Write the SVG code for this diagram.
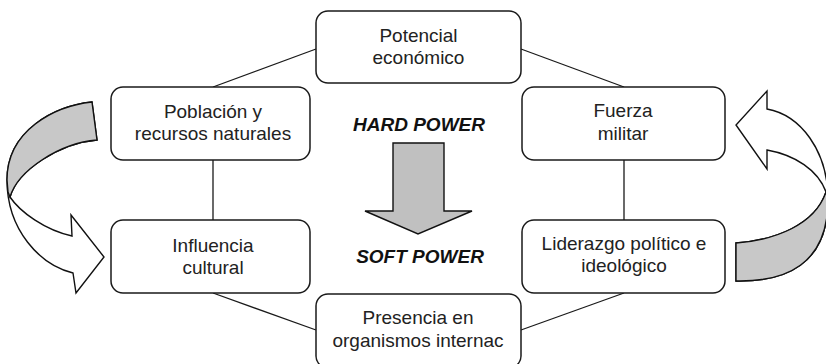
<svg xmlns="http://www.w3.org/2000/svg" width="826" height="364" viewBox="0 0 826 364">
<style>
.box{fill:#fff;stroke:#1a1a1a;stroke-width:1.5}
.lbl{font-family:"Liberation Sans",Arial,sans-serif;font-size:19px;fill:#222;text-anchor:middle}
.big{font-family:"Liberation Sans",Arial,sans-serif;font-size:19px;font-weight:bold;font-style:italic;fill:#111;text-anchor:middle}
.con{stroke:#1a1a1a;stroke-width:1.3;fill:none}
.arr{fill:#fff;stroke:#111;stroke-width:1.4;stroke-linejoin:miter}
.gray{fill:#c8c8c8;stroke:#111;stroke-width:1.4}
</style>
<rect width="826" height="364" fill="#fff"/>
<g id="connectors">
<line class="con" x1="316" y1="49" x2="213" y2="87"/>
<line class="con" x1="213" y1="160" x2="213" y2="220"/>
<line class="con" x1="213" y1="293" x2="316" y2="330"/>
<line class="con" x1="521" y1="49" x2="624" y2="87"/>
<line class="con" x1="624" y1="160" x2="624" y2="220"/>
<line class="con" x1="624" y1="293" x2="521" y2="330"/>
</g>
<g id="left-arrow">
<path class="arr" d="M92,102 C55,106 7,130 7,180 C7,230 40,265 73,273 L76,293 L104,257 L71,215 L72,236 C45,230 20,212 10,197 C18,170 60,143 97,140 Z"/>
<path class="gray" d="M92,102 C55,106 7,130 7,180 L8,192 L10,197 C18,170 60,143 97,140 Z"/>
</g>
<g id="right-arrow">
<path class="arr" d="M767,109 L767,91 L736,125 L767,169 L767,150 C795,155 818,170 826,192 C815,225 775,240 736,243 L736,281 C785,282 828,265 828,200 C828,150 800,115 767,109 Z"/>
<path class="gray" d="M826,192 L828,200 C828,265 785,282 736,281 L736,243 C775,240 815,225 826,192 Z"/>
</g>
<g id="center-arrow">
<path d="M393,143 L444,143 L444,211 L472,211 L418,234 L365,211 L393,211 Z" fill="#c0c0c0" stroke="#111" stroke-width="1.4"/>
</g>
<g id="hard-power"><text class="big" x="419" y="131">HARD POWER</text></g>
<g id="soft-power"><text class="big" x="420" y="263">SOFT POWER</text></g>
<g id="potencial">
<rect class="box" x="316" y="11" width="205" height="72" rx="12"/>
<text class="lbl" x="418.5" y="42">Potencial</text>
<text class="lbl" x="418.5" y="64">económico</text>
</g>
<g id="poblacion">
<rect class="box" x="111" y="87" width="199" height="73" rx="12"/>
<text class="lbl" x="213" y="118">Población y</text>
<text class="lbl" x="213" y="140">recursos naturales</text>
</g>
<g id="fuerza">
<rect class="box" x="522" y="87" width="203" height="73" rx="12"/>
<text class="lbl" x="623" y="117">Fuerza</text>
<text class="lbl" x="623" y="140">militar</text>
</g>
<g id="influencia">
<rect class="box" x="111" y="220" width="199" height="73" rx="12"/>
<text class="lbl" x="213" y="252">Influencia</text>
<text class="lbl" x="213" y="274">cultural</text>
</g>
<g id="liderazgo">
<rect class="box" x="522" y="220" width="203" height="73" rx="12"/>
<text class="lbl" x="624" y="250">Liderazgo político e</text>
<text class="lbl" x="624" y="272">ideológico</text>
</g>
<g id="presencia">
<rect class="box" x="316" y="294" width="205" height="74" rx="12"/>
<text class="lbl" x="418" y="324">Presencia en</text>
<text class="lbl" x="418" y="347">organismos internac</text>
</g>
</svg>
